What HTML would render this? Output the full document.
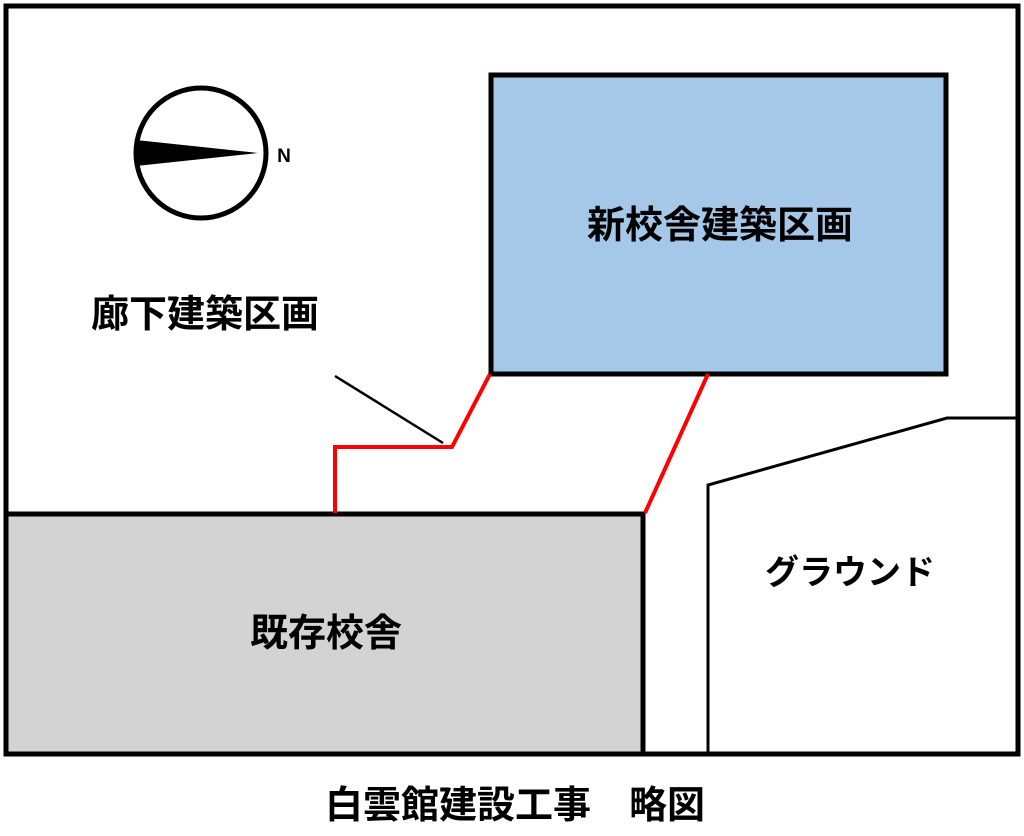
<!DOCTYPE html>
<html><head><meta charset="utf-8"><style>
body{margin:0;background:#fff;width:1024px;height:831px;overflow:hidden}
text{font-family:"Liberation Sans","Noto Sans CJK JP",sans-serif;font-weight:bold;fill:#000}
</style></head><body>
<svg width="1024" height="831" viewBox="0 0 1024 831" xmlns="http://www.w3.org/2000/svg">
<rect x="6" y="6" width="1012" height="748" fill="#fff" stroke="#000" stroke-width="5"/>
<rect x="491" y="75" width="455" height="299" fill="#a5c8e9" stroke="#000" stroke-width="5"/>
<rect x="6" y="514" width="637" height="240" fill="#d3d3d3" stroke="#000" stroke-width="5"/>
<polyline points="708,754 708,485 947,418 1016,418" fill="none" stroke="#000" stroke-width="3"/>
<polyline points="490,374 452,447 335,447 335,513" fill="none" stroke="#f00" stroke-width="4"/>
<line x1="708" y1="374" x2="645" y2="513" stroke="#f00" stroke-width="4"/>
<line x1="335" y1="376" x2="443" y2="443" stroke="#000" stroke-width="2.5"/>
<circle cx="201" cy="153" r="65" fill="#fff" stroke="#000" stroke-width="5"/>
<polygon points="136,140 258,153 136,166" fill="#000"/>
<text x="284" y="162" font-size="19" text-anchor="middle">N</text>
<text x="720" y="238" font-size="38" text-anchor="middle">新校舎建築区画</text>
<text x="205" y="327" font-size="38" text-anchor="middle">廊下建築区画</text>
<text x="326" y="646" font-size="38" text-anchor="middle">既存校舎</text>
<text x="850" y="584" font-size="34" text-anchor="middle">グラウンド</text>
<text x="515" y="818" font-size="38" text-anchor="middle">白雲館建設工事　略図</text>
</svg>
</body></html>
